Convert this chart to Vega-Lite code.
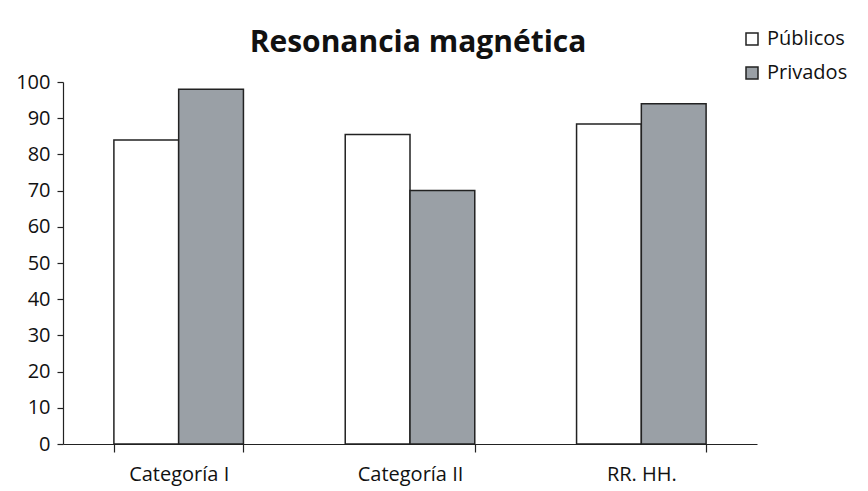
{
  "$schema": "https://vega.github.io/schema/vega-lite/v6.json",
  "width": 694,
  "height": 362,
  "autosize": "none",
  "padding": {"left": 63, "top": 82, "right": 111, "bottom": 47},
  "background": "white",
  "title": {"text": "Resonancia magnética", "fontSize": 30, "font": "Open Sans", "fontWeight": "bold", "color": "#111", "anchor": "middle", "offset": -29, "dx": 8},
  "data": {"values": [
    {"categoria": "Categoría I", "tipo": "Públicos", "valor": 84},
    {"categoria": "Categoría I", "tipo": "Privados", "valor": 98},
    {"categoria": "Categoría II", "tipo": "Públicos", "valor": 85.5},
    {"categoria": "Categoría II", "tipo": "Privados", "valor": 70},
    {"categoria": "RR. HH.", "tipo": "Públicos", "valor": 88.4},
    {"categoria": "RR. HH.", "tipo": "Privados", "valor": 94}
  ]},
  "mark": {"type": "bar", "stroke": "#222", "strokeWidth": 1.5},
  "encoding": {
    "x": {"field": "categoria", "type": "nominal", "sort": null,
      "scale": {"paddingInner": 0.44, "paddingOuter": 0.22},
      "axis": {"title": null, "labelAngle": 0, "labelFont": "Open Sans", "labelFontSize": 20, "labelColor": "#111", "tickBand": "extent", "tickSize": 8, "tickColor": "#222", "domainColor": "#222", "labelPadding": 12}},
    "xOffset": {"field": "tipo", "type": "nominal", "sort": ["Públicos", "Privados"], "scale": {"paddingInner": 0, "paddingOuter": 0}},
    "y": {"field": "valor", "type": "quantitative", "scale": {"domain": [0, 100], "nice": false},
      "axis": {"title": null, "grid": false, "values": [0,10,20,30,40,50,60,70,80,90,100], "labelFont": "Open Sans", "labelFontSize": 20, "labelColor": "#111", "tickSize": 6, "tickColor": "#222", "domainColor": "#222", "labelPadding": 7}},
    "fill": {"field": "tipo", "type": "nominal", "sort": ["Públicos", "Privados"],
      "scale": {"domain": ["Públicos", "Privados"], "range": ["#ffffff", "#9aa0a6"]},
      "legend": {"title": null, "orient": "none", "legendX": 679, "legendY": -53, "symbolType": "square", "symbolSize": 144, "symbolStrokeColor": "#222", "symbolStrokeWidth": 1.5, "labelFont": "Open Sans", "labelFontSize": 20, "labelColor": "#111", "rowPadding": 14, "labelOffset": 5}}
  },
  "config": {"view": {"stroke": null}, "axis": {"domainWidth": 1.2, "tickWidth": 1.2}}
}
